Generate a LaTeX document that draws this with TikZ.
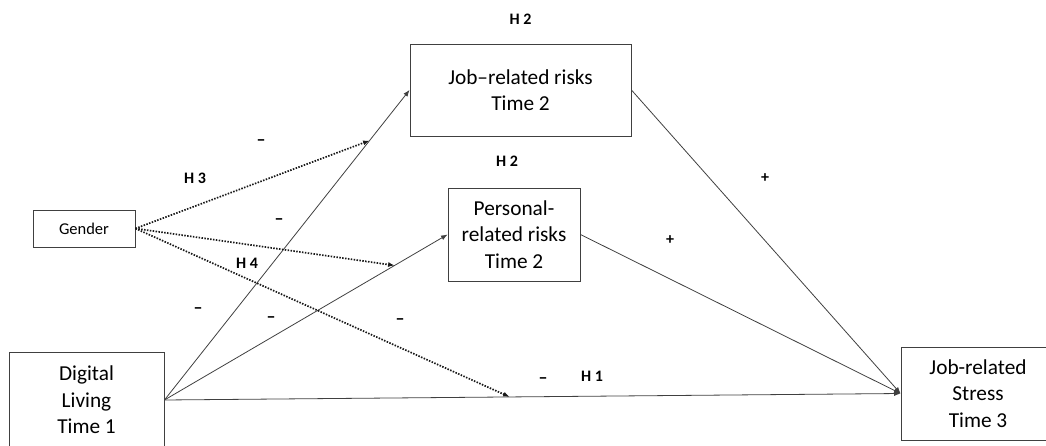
\documentclass[tikz,border=0pt]{standalone}
\usepackage{fontspec}
\setmainfont{Carlito}
\usetikzlibrary{calc, positioning, arrows.meta}

\begin{document}
\begin{tikzpicture}[x=1pt,y=-1pt,
box/.style={draw=black!75,line width=0.9pt,align=center,inner sep=0pt,font=\fontsize{21.3}{26.5}\selectfont},
link/.style={draw=black!75,line width=0.8pt,-{Latex[length=6.5pt,width=5pt]}},
glink/.style={draw=black!90,line width=1.7pt,dash pattern=on 1.5pt off 1.4pt,-{Latex[length=6.5pt,width=5pt]}},
hyp/.style={font=\fontsize{16}{18}\selectfont\bfseries},
sign/.style={font=\fontsize{18}{20}\selectfont\bfseries}]
\useasboundingbox (0,0) rectangle (1046,446);

\node[box,minimum width=221pt,minimum height=92pt] (jobrisk) at (520.5,90) {Job--related risks\\Time 2};
\node[box,minimum width=132pt,minimum height=93pt] (persrisk) at (514,234.5) {Personal-\\related risks\\Time 2};
\node[box,font=\fontsize{16.5}{19}\selectfont,minimum width=102pt,minimum height=37pt] (gender) at (84,228.5) {Gender};
\node[box,minimum width=155pt,minimum height=96pt] (digital) at (86.5,400) {Digital\\Living\\Time 1};
\node[box,minimum width=154pt,minimum height=93pt] (stress) at (978,393.5) {Job-related\\Stress\\Time 3};

\draw[link] (digital.east) -- coordinate[pos=0.837] (gjob) (jobrisk.west);
\draw[link] (digital.east) -- coordinate[pos=0.813] (gpers) (persrisk.west);
\draw[link] (digital.east) -- coordinate[pos=0.469] (gstress) (stress.west);
\draw[link] (jobrisk.east) -- (stress.west);
\draw[link] (persrisk.east) -- (stress.west);

\draw[glink] (gender.east) -- (gjob);
\draw[glink] (gender.east) -- (gpers);
\draw[glink] (gender.east) -- (gstress);

\node[hyp,above=16pt of jobrisk] (h2job) {H 2};
\node[hyp,above=18pt of persrisk,xshift=-7pt] (h2pers) {H 2};
\node[hyp] (h3) at (195,178) {H 3};
\node[hyp] (h4) at (247,263) {H 4};
\node[hyp] (h1) at (592,376) {H 1};

\node[sign] (sa) at (261,143) {--};
\node[sign] (sb) at (279,222) {--};
\node[sign] (sc) at (198,311) {--};
\node[sign] (sd) at (271,320) {--};
\node[sign] (se) at (400,322) {--};
\node[sign] (sf) at (543,381) {--};
\node[hyp] (pa) at (765,178) {+};
\node[hyp] (pb) at (670,240) {+};
\end{tikzpicture}
\end{document}
